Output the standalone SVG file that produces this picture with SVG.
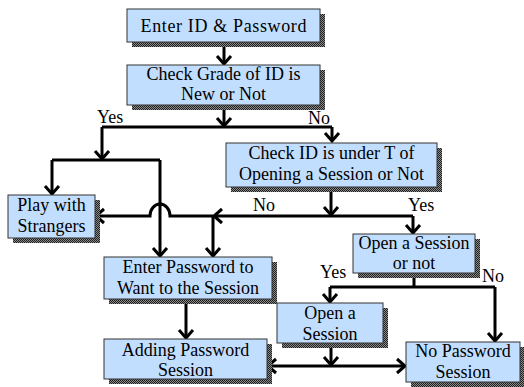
<svg xmlns="http://www.w3.org/2000/svg" width="524" height="387" viewBox="0 0 524 387">
<defs>
<pattern id="dither" width="2" height="2" patternUnits="userSpaceOnUse">
<rect width="2" height="2" fill="#8a8a8a"/>
<rect width="1" height="1" fill="#202020"/>
<rect x="1" y="1" width="1" height="1" fill="#202020"/>
</pattern>
<marker id="arr" markerUnits="userSpaceOnUse" markerWidth="20" markerHeight="20" viewBox="-12 -10 16 20" refX="0" refY="0" orient="auto">
<path d="M-8,-7 L0,0 L-8,7" fill="none" stroke="#000" stroke-width="3"/>
</marker>
<style>
.shadow{fill:url(#dither)}
.box{fill:#c2deff;stroke:#333;stroke-width:1}
.t text{font-size:18px;fill:#000;text-anchor:middle}
.t .lbl{text-anchor:start}
.c{fill:none;stroke:#000;stroke-width:3}
.a{fill:none;stroke:#000;stroke-width:3;marker-end:url(#arr)}
</style>
</defs>

<g id="connectors">
<path class="a" d="M224,42 V64"/>
<path class="a" d="M224,105 V126"/>
<path class="c" d="M102,127 H332"/>
<path class="a" d="M332,127 V141"/>
<path class="a" d="M102,127 V159"/>
<path class="c" d="M52,160 H160"/>
<path class="a" d="M52,160 V194"/>
<path class="a" d="M160,160 V256"/>
<path class="a" d="M331,187 V215"/>
<path class="a" d="M413,216 H214"/>
<path class="a" d="M213,216 H170 A10 12 0 0 0 150,216 H96"/>
<path class="a" d="M213,216 V256"/>
<path class="a" d="M413,216 V233"/>
<path class="c" d="M414,273 V287"/>
<path class="c" d="M330,287 H495"/>
<path class="a" d="M330,287 V302"/>
<path class="a" d="M495,287 V341"/>
<path class="a" d="M186,299 V338"/>
<path class="a" d="M331,343 V365"/>
<path class="a" d="M331,366 H268"/>
<path class="a" d="M331,366 H405"/>
</g>

<g class="t" font-family="Liberation Serif, serif">
<g id="labels">
<text class="lbl" x="97" y="123">Yes</text>
<text class="lbl" x="308" y="124">No</text>
<text class="lbl" x="253" y="211">No</text>
<text class="lbl" x="408" y="211">Yes</text>
<text class="lbl" x="320" y="278">Yes</text>
<text class="lbl" x="482" y="282">No</text>
</g>

<g id="n1">
<rect class="shadow" x="132" y="14" width="193" height="33"/>
<rect class="box" x="127" y="9" width="193" height="33"/>
<text x="223.5" y="32" textLength="166" lengthAdjust="spacing">Enter ID &amp; Password</text>
</g>

<g id="n2">
<rect class="shadow" x="132" y="70" width="193" height="40"/>
<rect class="box" x="127" y="65" width="193" height="40"/>
<text x="223.5" y="80">Check Grade of ID is</text>
<text x="223.5" y="100">New or Not</text>
</g>

<g id="n3">
<rect class="shadow" x="231" y="148" width="211" height="44"/>
<rect class="box" x="226" y="143" width="211" height="44"/>
<text x="331.5" y="159">Check ID is under T of</text>
<text x="331.5" y="180">Opening a Session or Not</text>
</g>

<g id="n4">
<rect class="shadow" x="13" y="200" width="87" height="43"/>
<rect class="box" x="8" y="195" width="87" height="43"/>
<text x="51.5" y="211">Play with</text>
<text x="51.5" y="232">Strangers</text>
</g>

<g id="n5">
<rect class="shadow" x="358" y="239" width="122" height="39"/>
<rect class="box" x="353" y="234" width="122" height="39"/>
<text x="414" y="249">Open a Session</text>
<text x="414" y="269">or not</text>
</g>

<g id="n6">
<rect class="shadow" x="109" y="262" width="168" height="42"/>
<rect class="box" x="104" y="257" width="168" height="42"/>
<text x="188" y="273">Enter Password to</text>
<text x="188" y="294">Want to the Session</text>
</g>

<g id="n7">
<rect class="shadow" x="282" y="308" width="106" height="40"/>
<rect class="box" x="277" y="303" width="106" height="40"/>
<text x="330" y="319">Open a</text>
<text x="330" y="340">Session</text>
</g>

<g id="n8">
<rect class="shadow" x="109" y="344" width="163" height="40"/>
<rect class="box" x="104" y="339" width="163" height="40"/>
<text x="185.5" y="356">Adding Password</text>
<text x="185.5" y="376">Session</text>
</g>

<g id="n9">
<rect class="shadow" x="411" y="347" width="114" height="40"/>
<rect class="box" x="406" y="342" width="114" height="40"/>
<text x="463" y="357">No Password</text>
<text x="463" y="378">Session</text>
</g>
</g>
</svg>
